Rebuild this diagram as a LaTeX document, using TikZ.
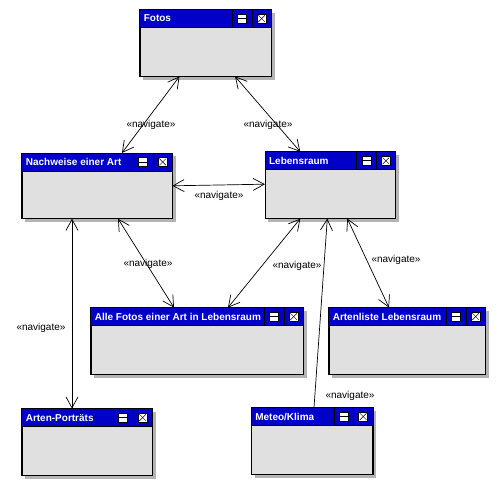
\documentclass[tikz,border=0pt]{standalone}
\usepackage{fontspec}
\setmainfont{Liberation Sans}
\usetikzlibrary{arrows.meta, backgrounds}
\definecolor{headblue}{RGB}{0,0,200}
\definecolor{bodygray}{RGB}{224,224,224}
\definecolor{shadowgray}{RGB}{180,180,180}

% shadow, header bar with title and the two window buttons
\newcommand{\classhead}[2]{%
  \begin{scope}[on background layer]
    \fill[shadowgray] ([shift={(3.5pt,-3.5pt)}]#1.north west) rectangle ([shift={(3.5pt,-3.5pt)}]#1.south east);
  \end{scope}
  \fill[headblue] (#1.north west) rectangle ([yshift=-18pt]#1.north east);
  \draw[line width=0.8pt] ([yshift=-18pt]#1.north west) -- ([yshift=-18pt]#1.north east);
  \draw[line width=0.8pt] ([xshift=-19.5pt]#1.north east) -- ([xshift=-19.5pt,yshift=-18pt]#1.north east);
  \draw[line width=0.8pt] ([xshift=-39pt]#1.north east) -- ([xshift=-39pt,yshift=-18pt]#1.north east);
  \node[headtitle, anchor=west] (#1-title) at ([xshift=4pt,yshift=-9pt]#1.north west) {#2};
  \node[iconbox] (#1-min) at ([xshift=-29.25pt,yshift=-9pt]#1.north east) {};
  \draw[line width=0.8pt] (#1-min.west) -- (#1-min.east);
  \node[iconbox] (#1-close) at ([xshift=-9.75pt,yshift=-9pt]#1.north east) {};
  \draw[line width=0.4pt] ([shift={(1.5pt,1.5pt)}]#1-close.south west) -- ([shift={(-1.5pt,-1.5pt)}]#1-close.north east);
  \draw[line width=0.4pt] ([shift={(1.5pt,-1.5pt)}]#1-close.north west) -- ([shift={(-1.5pt,1.5pt)}]#1-close.south east);
  \draw[line width=0.8pt] (#1.north west) rectangle (#1.south east);
}

\begin{document}
\begin{tikzpicture}[x=1pt, y=-1pt,
    classbox/.style={rectangle, draw, line width=0.8pt, fill=bodygray, inner sep=0pt,
        minimum height=66pt},
    headtitle/.style={font=\bfseries\fontsize{10}{12}\selectfont, text=white, inner sep=0pt},
    iconbox/.style={rectangle, draw, line width=0.8pt, fill=white, inner sep=0pt,
        minimum width=9pt, minimum height=9pt},
    lbl/.style={font=\fontsize{10}{12}\selectfont, inner sep=1pt},
    nav/.style={draw, line width=0.7pt,
        {Straight Barb[length=11pt,width=12pt]}-{Straight Barb[length=11pt,width=12pt]}},
    navone/.style={draw, line width=0.7pt, {Straight Barb[length=11pt,width=12pt]}-}
]
\useasboundingbox (0,0) rectangle (497,487);

% classes
\node[classbox, minimum width=131pt] (fotos) at (205.5,43) {};
\node[classbox, minimum width=150pt, minimum height=65pt] (nachweise) at (97,185.8) {};
\node[classbox, minimum width=130pt] (lebensraum) at (330.3,185.2) {};
\node[classbox, minimum width=212pt] (allefotos) at (197,341) {};
\node[classbox, minimum width=156pt] (artenliste) at (407,341) {};
\node[classbox, minimum width=130pt] (portraets) at (87,442) {};
\node[classbox, minimum width=121pt] (meteo) at (312,441) {};

\classhead{fotos}{Fotos}
\classhead{nachweise}{Nachweise einer Art}
\classhead{lebensraum}{Lebensraum}
\classhead{allefotos}{Alle Fotos einer Art in Lebensraum}
\classhead{artenliste}{Artenliste Lebensraum}
\classhead{portraets}{Arten-Porträts}
\classhead{meteo}{Meteo/Klima}

% navigation links
\draw[nav] ([xshift=-26pt]fotos.south) -- ([xshift=25pt]nachweise.north);
\draw[nav] ([xshift=29.5pt]fotos.south) -- ([xshift=-30pt]lebensraum.north);
\draw[nav] (nachweise.east) -- ([yshift=1pt]lebensraum.west);
\draw[nav] ([xshift=21pt]nachweise.south) -- ([xshift=-23pt]allefotos.north);
\draw[nav] ([xshift=-30pt]lebensraum.south) -- ([xshift=31pt]allefotos.north);
\draw[nav] ([xshift=-25pt]nachweise.south) -- ([xshift=-15pt]portraets.north);
\draw[navone] ([xshift=-3pt]lebensraum.south) -- ([xshift=2pt]meteo.north);
\draw[nav] ([xshift=17pt]lebensraum.south) -- ([xshift=-18pt]artenliste.north);

% stereotype labels
\node[lbl] (l-fn) at (151,125) {«navigate»};
\node[lbl] (l-fl) at (268,125) {«navigate»};
\node[lbl] (l-nl) at (219,196) {«navigate»};
\node[lbl] (l-na) at (148,264) {«navigate»};
\node[lbl] (l-la) at (297,266) {«navigate»};
\node[lbl] (l-lr) at (396,260) {«navigate»};
\node[lbl] (l-lm) at (350,396) {«navigate»};
\node[lbl] (l-np) at (41,328) {«navigate»};
\end{tikzpicture}
\end{document}
